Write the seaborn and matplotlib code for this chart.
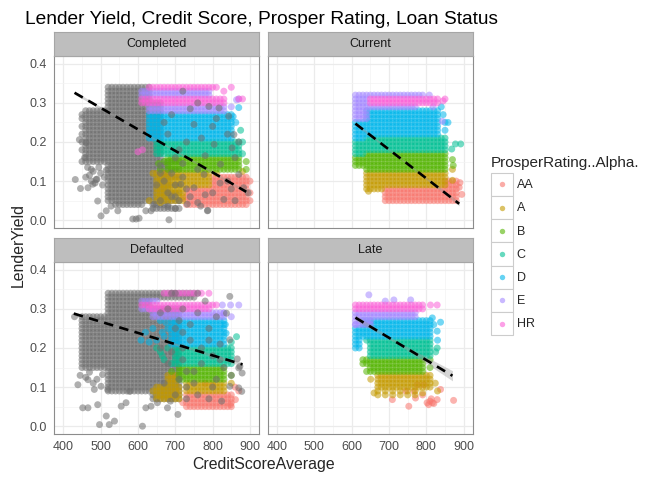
import matplotlib
matplotlib.use("Agg")
import matplotlib.pyplot as plt
import seaborn as sns
import pandas as pd
from matplotlib.patches import Rectangle
from matplotlib.lines import Line2D
from matplotlib.legend_handler import HandlerBase

# ---------------- categories / colours ----------------
RATINGS = ["AA", "A", "B", "C", "D", "E", "HR"]
COLORS = ["#F8766D", "#C49A00", "#53B400", "#00C094", "#00B6EB", "#A58AFF", "#FB61D7"]
NA_COLOR = "#6E6E6E"
STATUSES = ["Completed", "Current", "Defaulted", "Late"]
XTICKS = [400, 500, 600, 700, 800, 900]
XMINOR = [450, 550, 650, 750, 850]
YTICKS = [0.0, 0.1, 0.2, 0.3, 0.4]
YTICKLABELS = ["0.0", "0.1", "0.2", "0.3", "0.4"]
YMINOR = [0.05, 0.15, 0.25, 0.35]

# Credit-score values seen in the picture (the clouds sit on these columns)
SCORE_COLUMNS = [420, 430, 440, 450, 460, 470, 480, 490, 500, 510, 520, 530, 540, 550, 560,
                 570, 580, 590, 600, 610, 620, 630, 640, 650, 660, 670, 680, 690, 700, 710,
                 720, 730, 740, 750, 760, 770, 780, 790, 800, 810, 820, 830, 840, 850, 860,
                 870, 880, 890, 900]

# Data. Blocks: ((score from, score to) or explicit score list,
# lender-yield rows in %). Points: (score, yield %).

# ---------------- Current ----------------
cur_AA = [((690, 880), [5, 6, 7, 8]), ((850, 880), [9, 10])]
cur_AA_pts = [(890, 9.6), (895, 6.6), (888, 8.4)]
cur_A = [((640, 680), [8, 9, 10, 11, 12]), ((690, 850), [9, 10, 11, 12])]
cur_A_pts = [(870, 13.0), (870, 10.2), (645, 7.4)]
cur_B = [((610, 630), [14, 15, 16]), ((640, 850), [13, 14, 15, 16, 17])]
cur_B_pts = [(870, 15.5), (872, 14.0)]
cur_C = [((610, 630), [17, 18, 19, 20]), ((640, 850), [18, 19, 20, 21])]
cur_C_pts = [(878, 19.5), (892, 19.5), (868, 18.2)]
cur_D = [((610, 630), [21, 22, 23, 24, 25]), ((640, 830), [22, 23, 24, 25, 26, 27, 28])]
cur_D_pts = [(850, 25.0), (858, 25.0), (845, 27.0), (840, 29.0), (850, 23.0)]
cur_E = [((610, 640), [26, 27, 28, 29, 30, 31, 32]), ((650, 790), [32]), ((650, 770), [29])]
cur_E_pts = [(818, 29.0), (843, 25.3), (808, 32.0)]
cur_HR = [((650, 830), [30, 31])]
cur_HR_pts = [(850, 31.0), (845, 30.5)]

# ---------------- Completed ----------------
com_NA = [((520, 630), [14, 15, 16, 17, 18, 19, 20, 21, 22, 23, 24, 25, 26, 27, 28, 29, 30, 31, 32, 33, 34]),
          ((520, 630), [5, 6, 7, 8, 9, 10, 11, 12, 13]),
          ((540, 610), [4]),
          ((460, 510), [15, 16, 17, 18, 19, 20, 21, 22, 23, 24, 25, 26, 27, 28]),
          ([450], [15, 18, 20, 22, 24, 26, 27]),
          ((640, 680), [3, 4, 5, 6, 7, 8, 9, 10, 11, 12, 13, 14, 15]),
          ((690, 710), [3, 5, 7, 9, 11, 13, 15]),
          ((640, 660), [16, 17, 18, 19, 20, 21, 22, 23, 24, 25, 26, 27, 28, 29, 30])]
com_NA_pts = [(432, 10.4), (446, 8.1), (443, 20.6), (461, 19.8), (457, 16.0), (466, 8.3), (479, 9.2),
              (488, 10.4), (492, 4.9), (501, 1.1), (515, 2.4), (528, 3.6), (546, 2.4), (586, 0.3),
              (595, 0.3), (603, 0.5), (621, 2.4), (635, 2.4), (683, 0.1), (787, 2.5), (643, 4.1),
              (475, 13.0), (470, 11.5), (480, 12.5), (490, 10.5), (500, 12.0), (510, 11.0), (465, 13.5),
              (485, 9.5), (505, 9.0), (495, 13.5), (475, 10.0), (515, 12.8), (460, 11.0),
              (817, 28.7), (843, 26.6), (857, 21.9), (852, 18.5), (870, 11.7), (895, 7.0),
              (883, 8.3), (786, 2.4), (768, 3.6), (732, 4.1), (830, 5.3), (790, 29.1), (750, 24.5),
              (804, 19.4), (821, 14.3), (777, 11.7), (715, 9.2), (750, 8.3), (660, 5.0), (680, 7.0),
              (700, 6.0), (670, 10.0), (690, 12.0), (710, 5.0), (660, 14.0), (700, 3.0), (720, 11.0),
              (680, 3.5), (650, 9.0), (700, 9.0), (740, 6.0), (760, 13.0), (800, 7.0), (840, 10.0),
              (860, 5.0), (700, 16.0), (730, 20.0), (760, 30.0), (720, 33.0), (690, 27.0), (840, 22.0),
              (800, 24.0), (860, 16.0), (870, 20.0), (680, 22.0), (670, 25.0), (660, 12.0), (690, 6.0),
              (780, 6.5), (820, 9.5), (810, 26.0), (770, 21.0), (710, 18.0), (740, 28.5), (730, 8.0),
              (760, 4.5), (850, 8.0), (720, 14.5), (780, 16.5)]
com_AA = [((730, 890), [4, 5, 6, 7, 8]), ((800, 890), [9, 10, 11])]
com_AA_pts = [(900, 7.0), (900, 5.0), (720, 5.5), (900, 10.0)]
com_A = [((650, 790), [9, 10, 11, 12]), ((650, 720), [5, 6, 7, 8])]
com_A_pts = [(630, 5.0), (660, 4.5), (880, 12.5), (640, 12.0), (810, 12.0)]
com_B = [((680, 870), [13, 14, 15, 16])]
com_B_pts = [(890, 13.0), (890, 15.0), (660, 13.0), (670, 15.0), (655, 14.5)]
com_C = [((650, 870), [17, 18, 19, 20])]
com_C_pts = [(880, 17.0), (880, 20.0), (875, 23.0)]
com_D = [((630, 850), [21, 22, 23, 24, 25, 26, 27])]
com_D_pts = [(870, 28.8), (862, 25.0), (855, 26.5)]
com_E = [((630, 830), [28, 29]), ((610, 790), [32, 33])]
com_E_pts = [(864, 30.8), (870, 31.0), (850, 29.0)]
com_HR = [((610, 830), [30, 31]), ((630, 810), [34])]
com_HR_pts = [(830, 33.0), (870, 31.0), (880, 31.0), (850, 34.0), (600, 17.5), (612, 18.0)]

# ---------------- Defaulted ----------------
def_NA = [((520, 630), [9, 10, 11, 12, 13, 14, 15, 16, 17, 18, 19, 20, 21, 22, 23, 24, 25, 26, 27, 28, 29, 30, 31, 32, 33, 34]),
          ((450, 510), [15, 16, 17, 18, 19, 20, 21, 22, 23, 24, 25, 26, 27, 28]),
          ([430], [28]),
          ((640, 710), [7, 8, 9, 10, 11, 12, 13, 14, 15, 16, 17, 18, 19, 20, 21, 22, 23, 24, 25, 26, 27, 28, 29, 30]),
          ((640, 750), [33, 34])]
def_NA_pts = [(439, 10.6), (452, 4.7), (466, 4.7), (483, 9.4), (492, 5.5), (497, 0.4), (515, 2.6),
              (523, 0.4), (537, 1.3), (555, 5.1), (568, 6.0), (577, 8.9), (612, 0.0), (621, 4.7),
              (635, 5.1), (652, 6.0), (679, 4.7), (707, 3.0), (687, 6.4), (501, 10.2), (519, 9.4),
              (466, 11.9), (460, 12.5), (445, 13.0), (470, 13.8), (490, 12.0), (505, 13.2), (480, 11.0),
              (870, 14.9), (879, 13.6), (870, 9.8), (866, 17.2),
              (873, 15.3), (878, 8.9), (824, 6.4), (846, 10.2), (846, 22.1), (837, 28.9), (846, 33.2),
              (730, 10.0), (750, 14.0), (770, 20.0), (790, 25.0), (810, 12.0), (720, 17.0), (760, 8.0),
              (800, 18.0), (740, 26.0), (780, 32.0), (820, 21.0), (700, 34.0), (720, 30.0), (760, 34.0),
              (790, 7.0), (830, 15.0), (740, 22.0), (760, 29.0), (800, 10.0), (850, 13.0), (810, 28.0),
              (720, 24.0), (700, 8.0), (680, 30.0), (690, 34.0), (710, 12.0), (730, 14.0), (660, 20.0),
              (680, 16.0), (700, 25.0), (670, 11.0), (690, 19.0), (710, 27.0), (660, 29.0), (720, 20.0),
              (770, 16.0), (790, 22.0), (750, 11.0), (820, 17.0), (730, 7.0)]
def_AA = [((730, 850), [5, 6, 7, 8])]
def_AA_pts = [(848, 5.5), (861, 6.8), (870, 9.0), (860, 10.0), (720, 6.0), (800, 10.5), (780, 11.0)]
def_A = [((650, 710), [7, 8, 9, 10]), ((730, 830), [9, 10, 11]), ((680, 700), [11, 12, 13])]
def_A_pts = [(850, 11.0), (640, 9.0)]
def_B = [((710, 830), [12, 13, 14, 15])]
def_B_pts = [(850, 13.0), (690, 14.0)]
def_C = [((700, 850), [16, 17, 18, 19, 20])]
def_C_pts = [(864, 22.9), (850, 21.5), (665, 18.0), (680, 20.0), (660, 19.0), (670, 17.0),
             (650, 20.0), (690, 16.0)]
def_D = [((690, 830), [21, 22, 23, 24, 25, 26, 27])]
def_D_pts = [(608, 22.0), (834, 26.0), (836, 23.8), (640, 25.0), (665, 24.0), (675, 26.5),
             (620, 24.0), (650, 22.0), (660, 27.0), (670, 23.0), (630, 21.5), (680, 25.0)]
def_E = [((640, 830), [28, 29]), ((610, 650), [30, 32])]
def_E_pts = [(826, 31.0), (848, 31.0), (870, 31.0), (830, 28.9), (850, 28.0)]
def_HR = [((610, 810), [31]), ((630, 790), [30]), ((670, 770), [34])]
def_HR_pts = [(790, 34.0)]

# ---------------- Late ----------------
late_AA = []
late_AA_pts = [(709, 6.8), (753, 5.1), (776, 10.6), (771, 7.2), (802, 6.0), (810, 6.4), (816, 6.0),
               (829, 6.8), (838, 9.4), (873, 6.6), (793, 10.6), (767, 8.9), (806, 5.5), (820, 5.8),
               (813, 7.0), (745, 9.0), (790, 8.0)]
late_A = [((670, 810), [10, 11, 12, 13]), ([670, 690, 710, 730, 750, 770], [8, 9])]
late_A_pts = [(651, 12.0), (824, 11.0), (830, 9.0), (660, 8.5), (790, 8.5)]
late_B = [((650, 790), [14, 15, 16, 17]), ((630, 640), [16, 17])]
late_B_pts = [(810, 15.0), (640, 14.0), (810, 17.0)]
late_C = [((650, 810), [18, 19, 20, 21, 22])]
late_C_pts = [(829, 20.0), (825, 19.0), (640, 22.0)]
late_D = [((630, 810), [23, 24, 25, 26, 27]), ((610, 620), [20, 21, 22, 23, 24, 25])]
late_D_pts = [(816, 27.7), (838, 26.6), (829, 24.3), (830, 22.0), (820, 26.0)]
late_E = [((610, 650), [26, 27, 28, 29]), ((660, 770), [28, 29])]
late_E_pts = [(646, 33.6), (713, 32.3), (758, 32.3), (690, 32.0), (610, 26.0)]
late_HR = [((610, 790), [30, 31])]
late_HR_pts = [(829, 31.0), (811, 31.0)]

# ---------------- linear fits ----------------
com_fit_x, com_fit_y = [430, 890], [0.326, 0.0726]
cur_fit_x, cur_fit_y = [610, 888], [0.247, 0.042]
def_fit_x, def_fit_y = [428, 880], [0.288, 0.158]
late_fit_x, late_fit_y = [610, 870], [0.2776, 0.129]
com_band = ([430, 620, 890], [0.322, 0.2199, 0.0686], [0.330, 0.2229, 0.0766])
cur_band = ([610, 740, 888], [0.243, 0.1495, 0.037], [0.251, 0.1525, 0.047])
def_band = ([428, 640, 880], [0.283, 0.2255, 0.153], [0.293, 0.2285, 0.163])
late_band = ([610, 720, 870], [0.2706, 0.2117, 0.116], [0.2846, 0.2177, 0.142])


def columns_of(spec):
    if isinstance(spec, tuple):
        lo, hi = spec
        return [c for c in SCORE_COLUMNS if lo <= c <= hi]
    return list(spec)


def rows_from(status, layer, rating, blocks, pts):
    out = []
    for spec, ylds in blocks:
        for s in columns_of(spec):
            for y in ylds:
                out.append((status, layer, rating, s, y / 100.0))
    for s, y in pts:
        out.append((status, layer, rating, s, y / 100.0))
    return out


records = []
records += rows_from("Completed", 0, "NA", com_NA, [])
records += rows_from("Defaulted", 0, "NA", def_NA, [])
panel_groups = {
    "Completed": [(com_AA, com_AA_pts), (com_A, com_A_pts), (com_B, com_B_pts), (com_C, com_C_pts),
                  (com_D, com_D_pts), (com_E, com_E_pts), (com_HR, com_HR_pts)],
    "Current": [(cur_AA, cur_AA_pts), (cur_A, cur_A_pts), (cur_B, cur_B_pts), (cur_C, cur_C_pts),
                (cur_D, cur_D_pts), (cur_E, cur_E_pts), (cur_HR, cur_HR_pts)],
    "Defaulted": [(def_AA, def_AA_pts), (def_A, def_A_pts), (def_B, def_B_pts), (def_C, def_C_pts),
                  (def_D, def_D_pts), (def_E, def_E_pts), (def_HR, def_HR_pts)],
    "Late": [(late_AA, late_AA_pts), (late_A, late_A_pts), (late_B, late_B_pts), (late_C, late_C_pts),
             (late_D, late_D_pts), (late_E, late_E_pts), (late_HR, late_HR_pts)],
}
for status, groups in panel_groups.items():
    for rating, (blocks, pts) in zip(RATINGS, groups):
        records += rows_from(status, 1, rating, blocks, pts)
records += rows_from("Completed", 2, "NA", [], com_NA_pts)
records += rows_from("Defaulted", 2, "NA", [], def_NA_pts)

df = pd.DataFrame(records, columns=["LoanStatus", "layer", "ProsperRating", "CreditScoreAverage", "LenderYield"])

fits = {"Completed": (com_fit_x, com_fit_y, com_band), "Current": (cur_fit_x, cur_fit_y, cur_band),
        "Defaulted": (def_fit_x, def_fit_y, def_band), "Late": (late_fit_x, late_fit_y, late_band)}

# ---------------- figure ----------------
sns.set_style("white")
plt.rcParams["font.family"] = ["Liberation Sans", "DejaVu Sans"]

W, H = 672, 480
fig = plt.figure(figsize=(6.72, 4.8), dpi=100)
fig.patch.set_facecolor("white")

PW, PH, SH = 205.3, 172, 24
panel_px = {"Completed": (54, 56), "Current": (267.7, 56), "Defaulted": (54, 262), "Late": (267.7, 262)}
palette = dict(zip(RATINGS, COLORS))
S = 25
ALPHA = 0.55

for status in STATUSES:
    x0, y0 = panel_px[status]
    ax = fig.add_axes([x0 / W, 1 - (y0 + PH) / H, PW / W, PH / H])
    sub = df[df.LoanStatus == status]
    under = sub[sub.layer == 0]
    mid = sub[sub.layer == 1]
    over = sub[sub.layer == 2]
    if len(under):
        sns.scatterplot(data=under, x="CreditScoreAverage", y="LenderYield", color=NA_COLOR,
                        s=S, alpha=ALPHA, linewidth=0, edgecolor="none", ax=ax, legend=False)
    sns.scatterplot(data=mid, x="CreditScoreAverage", y="LenderYield", hue="ProsperRating",
                    hue_order=RATINGS, palette=palette, s=S, alpha=ALPHA, linewidth=0,
                    edgecolor="none", ax=ax, legend=False)
    if len(over):
        sns.scatterplot(data=over, x="CreditScoreAverage", y="LenderYield", color=NA_COLOR,
                        s=S, alpha=ALPHA, linewidth=0, edgecolor="none", ax=ax, legend=False)
    fx, fy, band = fits[status]
    ax.fill_between(band[0], band[1], band[2], color="#999999", alpha=0.4, linewidth=0, zorder=3)
    sns.lineplot(x=fx, y=fy, ax=ax, color="black", linewidth=1.9, linestyle=(0, (3.6, 2.4)),
                 zorder=4, legend=False)

    ax.set_xlim(375, 925)
    ax.set_ylim(-0.02, 0.42)
    ax.set_xticks(XTICKS)
    ax.set_xticks(XMINOR, minor=True)
    ax.set_yticks(YTICKS)
    ax.set_yticklabels(YTICKLABELS)
    ax.set_yticks(YMINOR, minor=True)
    ax.grid(which="major", color="#EBEBEB", linewidth=0.9)
    ax.grid(which="minor", color="#F3F3F3", linewidth=0.5)
    ax.set_axisbelow(True)
    ax.set_facecolor("white")
    for sp in ax.spines.values():
        sp.set_color("#8C8C8C")
        sp.set_linewidth(0.8)
    ax.set_xlabel("")
    ax.set_ylabel("")
    ax.tick_params(which="minor", length=0)
    ax.tick_params(which="major", length=3, width=0.8, color="#333333", labelsize=9,
                   labelcolor="#4D4D4D", pad=2)
    if status in ("Completed", "Current"):
        ax.tick_params(axis="x", which="major", length=0, labelbottom=False)
    if status in ("Current", "Late"):
        ax.tick_params(axis="y", which="major", length=0, labelleft=False)

    sax = fig.add_axes([x0 / W, 1 - y0 / H, PW / W, SH / H])
    sax.set_facecolor("#BEBEBE")
    sax.set_xticks([])
    sax.set_yticks([])
    for sp in sax.spines.values():
        sp.set_color("#A6A6A6")
        sp.set_linewidth(0.8)
    sax.text(0.5, 0.5, status, ha="center", va="center", fontsize=9, color="#1A1A1A",
             transform=sax.transAxes)

fig.text(25 / W, 1 - 24 / H, "Lender Yield, Credit Score, Prosper Rating, Loan Status",
         fontsize=13.8, ha="left", va="baseline", color="black")
fig.text(263.5 / W, 1 - 464 / H, "CreditScoreAverage", fontsize=11.4, ha="center", va="center")
fig.text(18 / W, 1 - 245 / H, "LenderYield", fontsize=11.4, ha="center", va="center", rotation=90)

# ---------------- legend ----------------
class KeyHandler(HandlerBase):
    def create_artists(self, legend, orig_handle, xdescent, ydescent, width, height, fontsize, trans):
        rect = Rectangle((-xdescent, -ydescent), width, height, facecolor="white",
                         edgecolor="#CCCCCC", linewidth=0.8, transform=trans)
        cx = -xdescent + width / 2.0
        cy = -ydescent + height / 2.0
        dot = Line2D([cx], [cy], marker="o", linestyle="None", markersize=3.9,
                     markerfacecolor=orig_handle.get_markerfacecolor(), markeredgewidth=0,
                     alpha=0.6, transform=trans)
        return [rect, dot]


handles = [Line2D([], [], marker="o", linestyle="None", markerfacecolor=c) for c in COLORS]
fig.text(490.7 / W, 1 - 167 / H, "ProsperRating..Alpha.", fontsize=11, ha="left", va="baseline")
fig.legend(handles, RATINGS, loc="upper left", bbox_to_anchor=(490.7 / W, 1 - 172.7 / H),
           frameon=False, borderpad=0, borderaxespad=0, handlelength=1.81, handleheight=2.48,
           labelspacing=0, handletextpad=0.27, fontsize=9, handler_map={Line2D: KeyHandler()})

fig.savefig("out.png", dpi=100, facecolor="white")
